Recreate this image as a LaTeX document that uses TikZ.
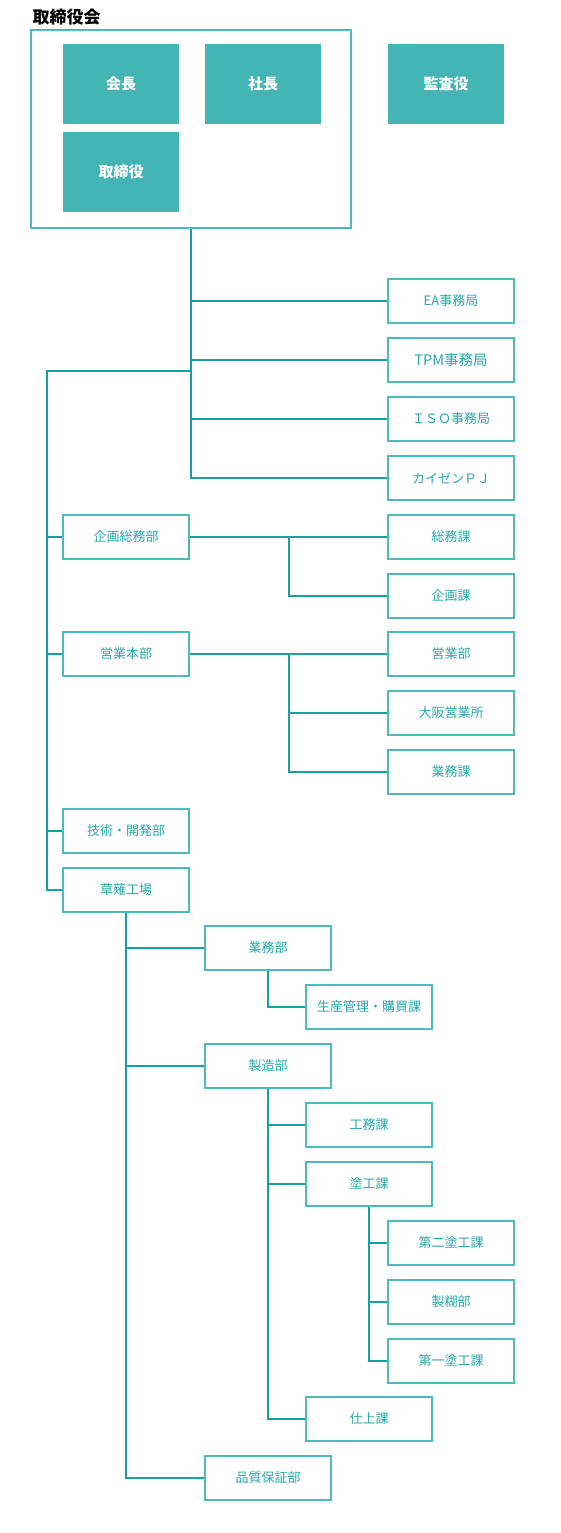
\documentclass[tikz,border=0pt]{standalone}
\usepackage{fontspec}
\setmainfont{Noto Sans CJK JP}
\definecolor{tealfill}{RGB}{67,181,181}
\definecolor{tealedge}{RGB}{77,187,187}
\definecolor{tealline}{RGB}{18,162,162}
\definecolor{tealtext}{RGB}{40,168,168}
\begin{document}
\begin{tikzpicture}[x=1pt, y=-1pt,
	solid/.style={fill=tealfill, minimum width=116pt, minimum height=80pt, inner sep=0pt, text=white, font=\fontsize{15}{17}\selectfont\bfseries},
	unit/.style={draw=tealedge, line width=2pt, fill=white, minimum width=126pt, minimum height=44pt, inner sep=0pt, text=tealtext, font=\fontsize{13}{15}\selectfont},
	link/.style={draw=tealline, line width=1.6pt}]
	\useasboundingbox (0,0) rectangle (561,1533);

	\node[anchor=west, font=\fontsize{17}{19}\selectfont\bfseries] (title) at (29,17){取締役会};
	\node[draw=tealedge, line width=2pt, minimum width=320pt, minimum height=198pt, inner sep=0pt] (board) at (191,129){};
	\node[solid] (kaicho) at (121,84){会長};
	\node[solid] (shacho) at (263,84){社長};
	\node[solid] (kansa) at (446,84){監査役};
	\node[solid] (torishimari) at (121,172){取締役};

	\node[unit] (ea) at (451,301){EA事務局};
	\node[unit, font=\fontsize{14.5}{16}\selectfont] (tpm) at (451,360){TPM事務局};
	\node[unit] (iso) at (451,419){ＩＳＯ事務局};
	\node[unit] (kaizen) at (451,478){カイゼンＰＪ};

	\node[unit] (kikaku) at (126,537){企画総務部};
	\node[unit] (soumuka) at (451,537){総務課};
	\node[unit] (kikakuka) at (451,596){企画課};
	\node[unit] (eigyo) at (126,654){営業本部};
	\node[unit] (eigyobu) at (451,654){営業部};
	\node[unit] (osaka) at (451,713){大阪営業所};
	\node[unit] (gyomuka) at (451,772){業務課};
	\node[unit] (gijutsu) at (126,831){技術・開発部};
	\node[unit] (kusanagi) at (126,890){草薙工場};

	\node[unit] (gyomubu) at (268,948){業務部};
	\node[unit] (seisan) at (369,1007){生産管理・購買課};
	\node[unit] (seizo) at (268,1066){製造部};
	\node[unit] (koumu) at (369,1125){工務課};
	\node[unit] (toko) at (369,1184){塗工課};
	\node[unit] (daini) at (451,1243){第二塗工課};
	\node[unit] (seiko) at (451,1302){製糊部};
	\node[unit] (daiichi) at (451,1361){第一塗工課};
	\node[unit] (shiage) at (369,1419){仕上課};
	\node[unit] (hinshitsu) at (268,1478){品質保証部};

	\coordinate (split) at (191,371);
	\coordinate (spine) at (47,371);
	\coordinate (kjoint) at (289,537);
	\coordinate (ejoint) at (289,654);

	\draw[link] (board.south) |- (ea.west);
	\draw[link] (board.south) |- (tpm.west);
	\draw[link] (board.south) |- (iso.west);
	\draw[link] (board.south) |- (kaizen.west);
	\draw[link] (split) -- (spine) |- (kusanagi.west);
	\draw[link] (spine) |- (kikaku.west);
	\draw[link] (spine) |- (eigyo.west);
	\draw[link] (spine) |- (gijutsu.west);

	\draw[link] (kikaku.east) -- (soumuka.west);
	\draw[link] (kjoint) |- (kikakuka.west);
	\draw[link] (eigyo.east) -- (eigyobu.west);
	\draw[link] (ejoint) |- (osaka.west);
	\draw[link] (ejoint) |- (gyomuka.west);

	\draw[link] (kusanagi.south) |- (gyomubu.west);
	\draw[link] (kusanagi.south) |- (seizo.west);
	\draw[link] (kusanagi.south) |- (hinshitsu.west);
	\draw[link] (gyomubu.south) |- (seisan.west);
	\draw[link] (seizo.south) |- (koumu.west);
	\draw[link] (seizo.south) |- (toko.west);
	\draw[link] (seizo.south) |- (shiage.west);
	\draw[link] (toko.south) |- (daini.west);
	\draw[link] (toko.south) |- (seiko.west);
	\draw[link] (toko.south) |- (daiichi.west);
\end{tikzpicture}
\end{document}
